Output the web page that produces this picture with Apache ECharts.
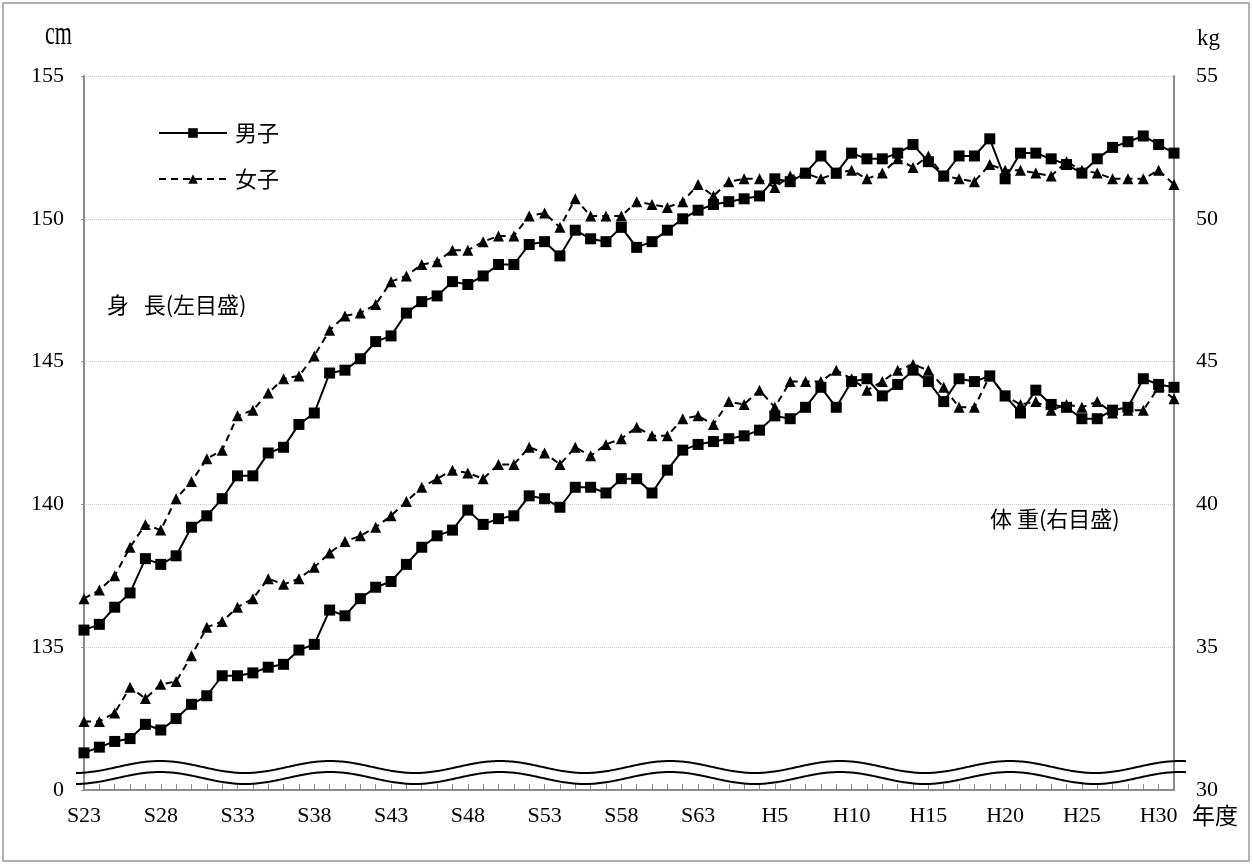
<!DOCTYPE html>
<html>
<head>
<meta charset="utf-8">
<title>身長・体重の推移</title>
<script src="https://cdn.jsdelivr.net/npm/echarts@6/dist/echarts.min.js"></script>
<style>
  html, body { margin: 0; padding: 0; background: #fff; }
  #main { width: 1253px; height: 865px; }
</style>
</head>
<body>
<div id="main"></div>
<script>
// 年度 S23〜S63, H1〜H30, R1
var years = [];
for (var s = 23; s <= 63; s++) years.push('S' + s);
for (var h = 1; h <= 30; h++) years.push('H' + h);
years.push('R1');

// 身長 (cm, 左目盛)
var boyHeight = [135.6, 135.8, 136.4, 136.9, 138.1, 137.9, 138.2, 139.2, 139.6, 140.2,
    141.0, 141.0, 141.8, 142.0, 142.8, 143.2, 144.6, 144.7, 145.1, 145.7,
    145.9, 146.7, 147.1, 147.3, 147.8, 147.7, 148.0, 148.4, 148.4, 149.1,
    149.2, 148.7, 149.6, 149.3, 149.2, 149.7, 149.0, 149.2, 149.6, 150.0,
    150.3, 150.5, 150.6, 150.7, 150.8, 151.4, 151.3, 151.6, 152.2, 151.6,
    152.3, 152.1, 152.1, 152.3, 152.6, 152.0, 151.5, 152.2, 152.2, 152.8,
    151.4, 152.3, 152.3, 152.1, 151.9, 151.6, 152.1, 152.5, 152.7, 152.9,
    152.6, 152.3];
var girlHeight = [136.7, 137.0, 137.5, 138.5, 139.3, 139.1, 140.2, 140.8, 141.6, 141.9,
    143.1, 143.3, 143.9, 144.4, 144.5, 145.2, 146.1, 146.6, 146.7, 147.0,
    147.8, 148.0, 148.4, 148.5, 148.9, 148.9, 149.2, 149.4, 149.4, 150.1,
    150.2, 149.7, 150.7, 150.1, 150.1, 150.1, 150.6, 150.5, 150.4, 150.6,
    151.2, 150.8, 151.3, 151.4, 151.4, 151.1, 151.5, 151.6, 151.4, 151.6,
    151.7, 151.4, 151.6, 152.1, 151.8, 152.2, 151.5, 151.4, 151.3, 151.9,
    151.7, 151.7, 151.6, 151.5, 152.0, 151.7, 151.6, 151.4, 151.4, 151.4,
    151.7, 151.2];

// 体重 (kg, 右目盛)
var boyWeight = [31.3, 31.5, 31.7, 31.8, 32.3, 32.1, 32.5, 33.0, 33.3, 34.0,
    34.0, 34.1, 34.3, 34.4, 34.9, 35.1, 36.3, 36.1, 36.7, 37.1,
    37.3, 37.9, 38.5, 38.9, 39.1, 39.8, 39.3, 39.5, 39.6, 40.3,
    40.2, 39.9, 40.6, 40.6, 40.4, 40.9, 40.9, 40.4, 41.2, 41.9,
    42.1, 42.2, 42.3, 42.4, 42.6, 43.1, 43.0, 43.4, 44.1, 43.4,
    44.3, 44.4, 43.8, 44.2, 44.7, 44.3, 43.6, 44.4, 44.3, 44.5,
    43.8, 43.2, 44.0, 43.5, 43.4, 43.0, 43.0, 43.3, 43.4, 44.4,
    44.2, 44.1];
var girlWeight = [32.4, 32.4, 32.7, 33.6, 33.2, 33.7, 33.8, 34.7, 35.7, 35.9,
    36.4, 36.7, 37.4, 37.2, 37.4, 37.8, 38.3, 38.7, 38.9, 39.2,
    39.6, 40.1, 40.6, 40.9, 41.2, 41.1, 40.9, 41.4, 41.4, 42.0,
    41.8, 41.4, 42.0, 41.7, 42.1, 42.3, 42.7, 42.4, 42.4, 43.0,
    43.1, 42.8, 43.6, 43.5, 44.0, 43.4, 44.3, 44.3, 44.3, 44.7,
    44.4, 44.0, 44.3, 44.7, 44.9, 44.7, 44.1, 43.4, 43.4, 44.5,
    43.8, 43.5, 43.6, 43.3, 43.5, 43.4, 43.6, 43.2, 43.3, 43.3,
    44.1, 43.7];

var serif = "'Liberation Serif', 'Noto Sans CJK JP', serif";
var jp = "'Noto Sans CJK JP', sans-serif";
var axisGray = '#8c8c8c';

// 省略線（波線）
function wave(offset) {
    var pts = [];
    for (var x = 76; x <= 1186; x += 2) {
        pts.push([x, 767 + offset - 6 * Math.cos(2 * Math.PI * (x - 160) / 170)]);
    }
    return pts;
}

function lineSeries(name, axis, data, dashed) {
    return {
        name: name, type: 'line', yAxisIndex: axis, data: data,
        symbol: dashed ? 'triangle' : 'rect',
        symbolSize: 11,
        showAllSymbol: true,
        itemStyle: { color: '#000' },
        lineStyle: { color: '#000', width: 2, type: dashed ? [7, 5] : 'solid' }
    };
}

var myChart = echarts.init(document.getElementById('main'));

var option = {
    backgroundColor: '#fff',
    animation: false,
    grid: {
        left: 84,
        right: 79,
        top: 76,
        bottom: 75,
        outerBoundsMode: 'none'
    },
    legend: {
        data: ['男子', '女子'],
        orient: 'vertical',
        left: 153,
        top: 117,
        itemWidth: 68,
        itemHeight: 12,
        itemGap: 24,
        selectedMode: false,
        textStyle: { fontFamily: jp, fontSize: 22, color: '#000', padding: [0, 0, 0, 3] }
    },
    xAxis: {
        type: 'category',
        data: years,
        boundaryGap: false,
        axisLine: { lineStyle: { color: axisGray, width: 2 } },
        axisTick: { show: true, inside: true, length: 6, interval: 0, lineStyle: { color: axisGray } },
        axisLabel: { interval: 4, margin: 15, fontFamily: serif, fontSize: 22, color: '#000' },
        splitLine: { show: false }
    },
    yAxis: [{
        type: 'value',
        min: 130,
        max: 155,
        interval: 5,
        axisLine: { show: true, lineStyle: { color: axisGray, width: 2 } },
        axisTick: { show: true, length: 3, lineStyle: { color: axisGray } },
        axisLabel: {
            margin: 20, fontFamily: serif, fontSize: 22, color: '#000',
            formatter: function(v) { return v === 130 ? '0' : v; }
        },
        splitLine: { lineStyle: { color: '#c8c8c8', type: 'dotted', width: 1 } }
    }, {
        type: 'value',
        min: 30,
        max: 55,
        interval: 5,
        position: 'right',
        axisLine: { show: true, lineStyle: { color: axisGray, width: 2 } },
        axisTick: { show: false },
        axisLabel: { margin: 22, fontFamily: serif, fontSize: 22, color: '#000' },
        splitLine: { show: false }
    }],
    series: [
        lineSeries('男子', 0, boyHeight, false),
        lineSeries('女子', 0, girlHeight, true),
        lineSeries('男子', 1, boyWeight, false),
        lineSeries('女子', 1, girlWeight, true)
    ],
    graphic: [
        { type: 'rect', shape: { x: 3, y: 3, width: 1246, height: 858 },
          style: { fill: 'none', stroke: '#999', lineWidth: 1.5 }, silent: true },
        { type: 'text', x: 45, y: 52, scaleY: 1.5,
          style: { text: 'cm', font: '22px ' + serif, fill: '#000', verticalAlign: 'bottom' } },
        { type: 'text', left: 1197, top: 27, style: { text: 'kg', font: '23px ' + serif, fill: '#000' } },
        { type: 'text', left: 1192, top: 804, style: { text: '年度', font: '23px ' + jp, fill: '#000' } },
        { type: 'text', left: 107, top: 294, style: { text: '身\u2002\u2006長(左目盛)', font: '22px ' + jp, fill: '#000' } },
        { type: 'text', left: 990, top: 508, style: { text: '体 重(右目盛)', font: '22px ' + jp, fill: '#000' } },
        { type: 'polyline', shape: { points: wave(0) }, style: { stroke: '#000', lineWidth: 2, fill: null }, z: 10 },
        { type: 'polyline', shape: { points: wave(11) }, style: { stroke: '#000', lineWidth: 2, fill: null }, z: 10 }
    ]
};

myChart.setOption(option);
</script>
</body>
</html>
